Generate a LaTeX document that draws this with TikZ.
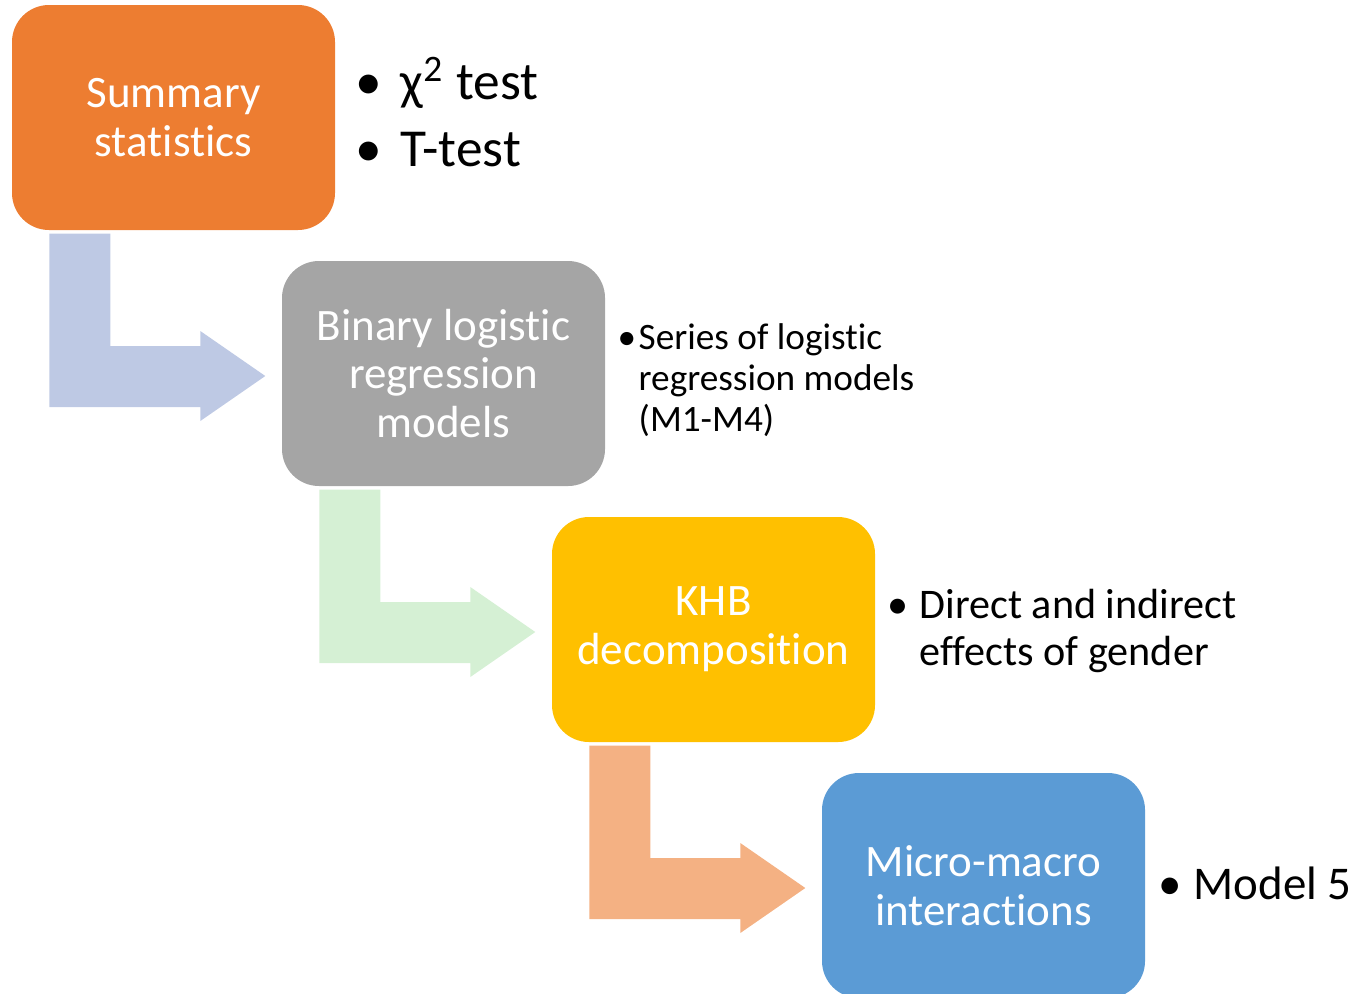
\documentclass[tikz,border=0pt]{standalone}
\usepackage{fontspec}
\setmainfont{Carlito}[RawFeature={-liga;-clig;-dlig;-calt;-rlig}]
\usetikzlibrary{calc}

\definecolor{orangebox}{HTML}{ED7D31}
\definecolor{grisbox}{HTML}{A5A5A5}
\definecolor{jaunebox}{HTML}{FFC000}
\definecolor{bleubox}{HTML}{5B9BD5}
\definecolor{flechebleue}{HTML}{BEC9E4}
\definecolor{flecheverte}{HTML}{D5F0D4}
\definecolor{flecheorange}{HTML}{F4B183}

\tikzset{
  etape/.style={rectangle, rounded corners=0.37cm, minimum width=3.23cm,
    minimum height=2.25cm, inner sep=0pt, text=white, align=center,
    font=\fontsize{12.8}{13.9}\selectfont},
  liste/.style={anchor=west, inner sep=0pt},
}

% puce de largeur fixe
\newcommand\puce[1]{\makebox[#1][l]{\textbullet}}

% fleche coudee : du bas de #1 vers la gauche de #2
\newcommand\coude[3]{%
  \fill[#3] let \p1=(#1.south west), \p2=(#2.west) in
    (\x1+0.38cm,\y1-0.03cm) -- (\x1+0.99cm,\y1-0.03cm)
    -- (\x1+0.99cm,\y2+0.275cm) -- (\x2-0.81cm,\y2+0.275cm)
    -- (\x2-0.81cm,\y2+0.425cm) -- (\x2-0.16cm,\y2-0.025cm)
    -- (\x2-0.81cm,\y2-0.475cm) -- (\x2-0.81cm,\y2-0.335cm)
    -- (\x1+0.38cm,\y2-0.335cm) -- cycle;}

\begin{document}
\begin{tikzpicture}
    \useasboundingbox (0,0) rectangle (13.58,-9.93);

    % Etapes
    \node[etape, fill=orangebox] (resume) at (1.735,-1.175) {Summary\\statistics};
    \node[etape, fill=grisbox] (logit) at (4.435,-3.735) {Binary logistic\\regression\\models};
    \node[etape, fill=jaunebox] (khb) at (7.135,-6.295) {KHB\\decomposition};
    \node[etape, fill=bleubox] (micro) at (9.835,-8.855) {Micro-macro\\interactions};

    % Fleches
    \coude{resume}{logit}{flechebleue}
    \coude{logit}{khb}{flecheverte}
    \coude{khb}{micro}{flecheorange}

    % Listes a puces
    \node[liste, font=\fontsize{15.2}{19}\selectfont] (tests) at (3.55,-1.195)
      {\begin{tabular}{@{}l@{}l@{}}\puce{0.45cm} & χ\textsuperscript{2} test\\ \puce{0.45cm} & T-test\end{tabular}};
    \node[liste, font=\fontsize{10.6}{11.7}\selectfont] (series) at (6.17,-3.825)
      {\begin{tabular}{@{}l@{}l@{}}\puce{0.21cm} & Series of logistic\\ & regression models\\ & (M1-M4)\end{tabular}};
    \node[liste, font=\fontsize{12}{13.4}\selectfont] (effets) at (8.87,-6.325)
      {\begin{tabular}{@{}l@{}l@{}}\puce{0.32cm} & Direct and indirect\\ & effects of gender\end{tabular}};
    \node[liste, font=\fontsize{13.35}{16}\selectfont] (modele) at (11.58,-8.88)
      {\begin{tabular}{@{}l@{}l@{}}\puce{0.35cm} & Model 5\end{tabular}};
\end{tikzpicture}
\end{document}
